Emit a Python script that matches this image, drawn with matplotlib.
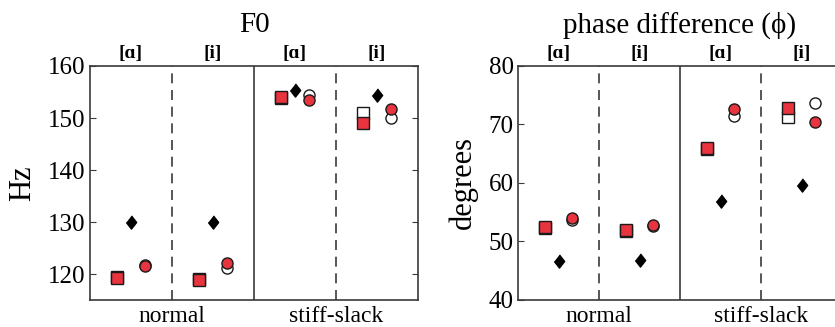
import matplotlib
matplotlib.use("Agg")
import matplotlib.pyplot as plt
import numpy as np

plt.rcParams['font.family'] = ['Liberation Serif', 'DejaVu Serif']

# groups: normal [a], normal [i], stiff-slack [a], stiff-slack [i]
vowels = ["[\u0251]", "[i]", "[\u0251]", "[i]"]
conditions = ["normal", "stiff-slack"]

# F0 (Hz)
f0_diamond = [130.0, 130.0, 155.3, 154.4]
f0_sq_open = [119.5, 119.0, 153.8, 151.0]
f0_sq_red = [119.3, 118.9, 154.1, 149.0]
f0_ci_open = [121.7, 121.2, 154.4, 150.0]
f0_ci_red = [121.5, 122.1, 153.5, 151.7]

# phase difference (degrees)
ph_diamond = [46.6, 46.8, 57.0, 59.6]
ph_sq_open = [52.3, 51.8, 65.8, 71.2]
ph_sq_red = [52.5, 52.0, 66.0, 72.9]
ph_ci_open = [53.6, 52.7, 71.4, 73.6]
ph_ci_red = [54.1, 52.9, 72.7, 70.4]

red = "#e8343e"
edge = "#1a1a1a"
spine = "#3a3a3a"
diamond = [(0, 1), (0.78, 0), (0, -1), (-0.78, 0)]

fig = plt.figure(figsize=(8.35, 3.27), dpi=100)
ax1 = fig.add_axes([90/835, 27/327, 328/835, 234/327])
ax2 = fig.add_axes([518/835, 27/327, 324/835, 234/327])

centers = np.arange(4) + 0.5
off = 0.17


def panel(ax, dia, sqo, sqr, cio, cir, ylim, yticks, ylabel, title, lpad):
    ax.plot(centers - off, sqo, ls="none", marker="s", ms=8, mfc="white", mec=edge, mew=1, zorder=3)
    ax.plot(centers - off, sqr, ls="none", marker="s", ms=8, mfc=red, mec=edge, mew=1, zorder=4)
    ax.plot(centers + off, cio, ls="none", marker="o", ms=8, mfc="white", mec=edge, mew=1, zorder=3)
    ax.plot(centers + off, cir, ls="none", marker="o", ms=8, mfc=red, mec=edge, mew=1, zorder=4)
    ax.plot(centers, dia, ls="none", marker=diamond, ms=9.5, mfc="black", mec="black", zorder=5)

    ax.set_xlim(0, 4)
    ax.set_ylim(*ylim)
    ax.axvline(1, color=spine, lw=1.2, ls=(0, (6, 4)))
    ax.axvline(3, color=spine, lw=1.2, ls=(0, (6, 4)))
    ax.axvline(2, color=spine, lw=1.2)

    ax.set_yticks(yticks)
    ax.tick_params(axis="y", direction="in", right=True, length=4, color=spine,
                   labelsize=18, pad=3)
    ax.set_xticks([1, 3])
    ax.set_xticklabels(conditions, fontsize=17)
    ax.tick_params(axis="x", length=0, pad=4)
    for s in ax.spines.values():
        s.set_color(spine)
        s.set_linewidth(1.2)

    for c, v in zip(centers, vowels):
        ax.text(c, 1.052, v, transform=ax.get_xaxis_transform(), ha="center",
                va="center", fontsize=14, fontweight="bold")
    ax.text(0.5, 1.175, title, transform=ax.transAxes, ha="center", va="center",
            fontsize=21)
    ax.set_ylabel(ylabel, fontsize=22, labelpad=lpad)


panel(ax1, f0_diamond, f0_sq_open, f0_sq_red, f0_ci_open, f0_ci_red,
      (115, 160), [120, 130, 140, 150, 160], "Hz", "F0", 8)
panel(ax2, ph_diamond, ph_sq_open, ph_sq_red, ph_ci_open, ph_ci_red,
      (40, 80), [40, 50, 60, 70, 80], "degrees", "phase difference (\u03d5)", 8)

fig.savefig("out.png", dpi=100)
